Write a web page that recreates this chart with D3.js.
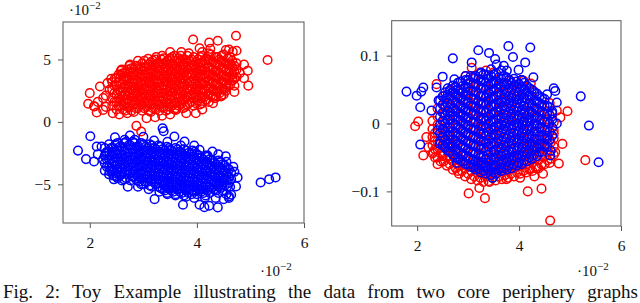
<!DOCTYPE html>
<html>
<head>
<meta charset="utf-8">
<script src="https://cdn.jsdelivr.net/npm/d3@7"></script>
<style>
  body { margin: 0; background: #fff; }
</style>
</head>
<body>
<svg id="chart" width="640" height="303"></svg>
<script>
// x values in units of 1e-2 (axis shows "·10^-2"), left y also in 1e-2, right y raw

// ---- left panel, red group: dense core as columns [x, [y...]] ----
var leftRedCore = [
  [2.42,[1.3,1.9,2.6,3.2]],
  [2.5,[1.0,1.6,2.2,2.9,3.5]],
  [2.58,[1.3,1.8,2.4,3.0,3.7,4.1]],
  [2.66,[0.9,1.5,2.1,2.7,3.3,3.9]],
  [2.74,[1.2,1.7,2.3,2.8,3.4,4.0,4.5]],
  [2.82,[0.8,1.4,2.0,2.5,3.1,3.7,4.2]],
  [2.9,[1.1,1.7,2.2,2.8,3.3,3.9,4.4]],
  [2.98,[0.9,1.4,1.9,2.5,3.0,3.6,4.1,4.7]],
  [3.06,[1.2,1.7,2.2,2.8,3.3,3.9,4.4]],
  [3.14,[0.8,1.4,2.0,2.5,3.1,3.6,4.2,4.8]],
  [3.22,[1.1,1.7,2.3,2.8,3.4,3.9,4.5,5.0]],
  [3.3,[0.9,1.4,2.0,2.6,3.1,3.7,4.2,4.7]],
  [3.38,[1.2,1.8,2.3,2.9,3.5,4.0,4.6,5.1]],
  [3.46,[1.0,1.5,2.1,2.7,3.2,3.8,4.3,4.9]],
  [3.54,[1.3,1.9,2.4,3.0,3.5,4.1,4.6,5.2]],
  [3.62,[1.1,1.6,2.2,2.8,3.3,3.9,4.4,4.9]],
  [3.7,[1.4,2.0,2.5,3.1,3.7,4.2,4.8,5.3]],
  [3.78,[1.2,1.8,2.3,2.9,3.4,4.0,4.5,5.0]],
  [3.86,[1.5,2.1,2.6,3.2,3.8,4.3,4.9]],
  [3.94,[1.3,1.9,2.4,3.0,3.5,4.1,4.6,5.2]],
  [4.02,[1.7,2.2,2.8,3.3,3.9,4.4,5.0]],
  [4.1,[1.5,2.0,2.6,3.1,3.7,4.2,4.8,5.3]],
  [4.18,[1.8,2.4,2.9,3.5,4.0,4.6,5.1]],
  [4.26,[2.1,2.7,3.2,3.8,4.3,4.9,5.4]],
  [4.34,[1.9,2.5,3.0,3.6,4.1,4.7,5.2]],
  [4.42,[2.3,2.8,3.4,3.9,4.5,5.0]],
  [4.5,[2.6,3.2,3.7,4.3,4.8,5.4]],
  [4.58,[2.9,3.5,4.0,4.6,5.1]],
  [4.66,[3.3,3.8,4.4,4.9]],
  [4.74,[3.6,4.2,4.7]]
];
var leftRedFill = [
  [2.46,[1.6,2.3,2.9]],
  [2.54,[1.3,1.9,2.6,3.2,3.8]],
  [2.62,[1.0,1.6,2.1,2.7,3.4,3.9]],
  [2.7,[1.2,1.8,2.4,3.0,3.6,4.2]],
  [2.78,[0.9,1.5,2.0,2.6,3.1,3.7,4.3]],
  [2.86,[1.1,1.7,2.3,2.8,3.4,4.0,4.5]],
  [2.94,[1.4,2.0,2.5,3.1,3.6,4.2]],
  [3.02,[1.1,1.6,2.2,2.7,3.3,3.8,4.4,4.9]],
  [3.1,[0.9,1.5,2.0,2.5,3.1,3.6,4.1,4.6]],
  [3.18,[1.1,1.7,2.2,2.8,3.3,3.9,4.5,4.9]],
  [3.26,[1.4,2.0,2.5,3.1,3.7,4.2,4.7]],
  [3.34,[1.2,1.7,2.3,2.8,3.4,3.9,4.5,5.0]],
  [3.42,[0.9,1.5,2.0,2.6,3.2,3.7,4.3,4.8]],
  [3.5,[1.2,1.8,2.4,2.9,3.5,4.0,4.6,5.1]],
  [3.58,[1.0,1.5,2.1,2.7,3.2,3.8,4.3,4.9,5.3]],
  [3.66,[1.3,1.9,2.5,3.0,3.6,4.1,4.7,5.1]],
  [3.74,[1.1,1.7,2.2,2.8,3.4,3.9,4.5,5.0]],
  [3.82,[1.4,2.0,2.6,3.1,3.7,4.2,4.8,5.3]],
  [3.9,[1.6,2.2,2.8,3.3,3.9,4.5,5.0]],
  [3.98,[1.5,2.0,2.6,3.2,3.7,4.3,4.8]],
  [4.06,[1.4,1.9,2.5,3.0,3.6,4.1,4.7,5.2]],
  [4.14,[2.0,2.6,3.2,3.8,4.3,4.9]],
  [4.22,[1.6,2.2,2.7,3.3,3.8,4.4,5.0,5.5]],
  [4.3,[2.0,2.5,3.1,3.6,4.2,4.8]],
  [4.38,[2.4,3.0,3.5,4.1,4.6,5.2]],
  [4.46,[2.1,2.6,3.2,3.7,4.3,4.9,5.3]],
  [4.54,[2.5,3.0,3.6,4.1,4.7]],
  [4.62,[3.0,3.6,4.2,4.7,5.2]],
  [4.7,[3.5,4.0,4.5]]
];
var leftRedEdge = [
  [5.32,4.96],[4.73,6.9],[4.39,6.5],[4.23,6.35],[3.93,6.6],[4.96,2.9],[4.88,3.5],[4.88,4.6],
  [4.74,5.7],[4.6,5.8],[1.97,1.45],[2.08,1.25],[2.13,0.75],[2.43,0.69],[2.87,-0.32],[2.96,-0.77],
  [3.06,0.3],[3.22,0.37],[3.8,0.69],[3.98,0.69],[3.61,0.96],[2.68,3.5],[2.47,3.5],[2.4,3.45],
  [2.75,4.6],[3.09,5.05],[3.24,5.2],[3.71,5.6],[4.05,5.9],[2.19,2.83],[2.0,2.3],[2.25,1.9],
  [2.37,2.56],[4.36,2.03],[4.45,2.03],[4.67,3.36],[4.54,2.7],[4.17,1.76],[2.3,1.2],[2.15,1.6],
  [2.3,2.1],[2.55,0.6],[2.7,0.7],[3.35,0.5],[3.5,0.6],[4.1,1.0],[4.3,1.5],[4.5,2.2],[4.7,2.9],
  [4.8,3.9],[4.54,5.76],[4.67,5.62],[4.1,5.6],[3.85,5.5],[3.5,5.6],[3.35,5.3],[2.9,4.9],
  [2.6,4.2],[4.25,5.85],[2.33,3.1],[4.95,4.1],[4.7,2.4],[2.25,0.96],[2.09,1.23]
];

// ---- left panel, blue group ----
var leftBlueCore = [
  [2.28,[-2.1,-2.7,-3.3,-3.9]],
  [2.36,[-1.8,-2.4,-3.0,-3.6,-4.2]],
  [2.44,[-2.1,-2.6,-3.2,-3.8,-4.3]],
  [2.52,[-1.7,-2.3,-2.9,-3.4,-4.0,-4.5]],
  [2.6,[-2.0,-2.6,-3.1,-3.7,-4.2]],
  [2.68,[-1.6,-2.2,-2.8,-3.3,-3.9,-4.5]],
  [2.76,[-1.9,-2.5,-3.0,-3.6,-4.1,-4.7]],
  [2.84,[-1.7,-2.2,-2.8,-3.3,-3.9,-4.4]],
  [2.92,[-2.0,-2.5,-3.1,-3.6,-4.2,-4.8]],
  [3.0,[-1.8,-2.3,-2.9,-3.4,-4.0,-4.5,-5.0]],
  [3.08,[-2.1,-2.6,-3.2,-3.7,-4.3,-4.8]],
  [3.16,[-1.9,-2.4,-3.0,-3.5,-4.1,-4.6,-5.2]],
  [3.24,[-2.2,-2.7,-3.3,-3.8,-4.4,-4.9]],
  [3.32,[-2.0,-2.5,-3.1,-3.6,-4.2,-4.7,-5.3]],
  [3.4,[-2.3,-2.8,-3.4,-3.9,-4.5,-5.0,-5.5]],
  [3.48,[-2.1,-2.6,-3.2,-3.7,-4.3,-4.8,-5.3]],
  [3.56,[-2.4,-2.9,-3.5,-4.0,-4.6,-5.1,-5.6]],
  [3.64,[-2.2,-2.7,-3.3,-3.8,-4.4,-4.9,-5.4]],
  [3.72,[-2.5,-3.0,-3.6,-4.1,-4.7,-5.2,-5.7]],
  [3.8,[-2.3,-2.8,-3.4,-3.9,-4.5,-5.0,-5.5]],
  [3.88,[-2.6,-3.1,-3.7,-4.2,-4.8,-5.3]],
  [3.96,[-2.4,-2.9,-3.5,-4.0,-4.6,-5.1,-5.6]],
  [4.04,[-2.7,-3.2,-3.8,-4.3,-4.9,-5.4]],
  [4.12,[-3.0,-3.5,-4.1,-4.6,-5.2,-5.7]],
  [4.2,[-2.8,-3.3,-3.9,-4.4,-5.0,-5.5]],
  [4.28,[-3.1,-3.6,-4.2,-4.7,-5.3]],
  [4.36,[-3.4,-3.9,-4.5,-5.0,-5.5]],
  [4.44,[-3.2,-3.7,-4.3,-4.8,-5.3]],
  [4.52,[-3.5,-4.0,-4.6,-5.1]],
  [4.6,[-3.8,-4.4,-4.9]]
];
var leftBlueFill = [
  [2.32,[-2.4,-3.0,-3.6]],
  [2.4,[-2.1,-2.7,-3.3,-3.9]],
  [2.48,[-1.8,-2.4,-2.9,-3.5,-4.1]],
  [2.56,[-2.0,-2.6,-3.2,-3.7,-4.3]],
  [2.64,[-1.7,-2.3,-2.9,-3.4,-4.0,-4.6]],
  [2.72,[-1.9,-2.5,-3.1,-3.6,-4.2]],
  [2.8,[-1.6,-2.2,-2.8,-3.3,-3.9,-4.4]],
  [2.88,[-2.0,-2.5,-3.1,-3.6,-4.2,-4.7]],
  [2.96,[-1.7,-2.3,-2.8,-3.4,-3.9,-4.5,-5.0]],
  [3.04,[-2.0,-2.6,-3.1,-3.7,-4.2,-4.8]],
  [3.12,[-1.8,-2.3,-2.9,-3.4,-4.0,-4.5,-5.1]],
  [3.2,[-2.1,-2.6,-3.2,-3.7,-4.3,-4.8]],
  [3.28,[-1.9,-2.4,-3.0,-3.5,-4.1,-4.6,-5.2]],
  [3.36,[-2.2,-2.7,-3.3,-3.8,-4.4,-4.9,-5.4]],
  [3.44,[-2.0,-2.5,-3.1,-3.6,-4.2,-4.7,-5.3,-5.7]],
  [3.52,[-2.3,-2.8,-3.4,-3.9,-4.5,-5.0,-5.5]],
  [3.6,[-2.1,-2.6,-3.2,-3.7,-4.3,-4.8,-5.3,-5.8]],
  [3.68,[-2.4,-2.9,-3.5,-4.0,-4.6,-5.1,-5.6]],
  [3.76,[-2.2,-2.7,-3.3,-3.8,-4.4,-4.9,-5.4,-5.9]],
  [3.84,[-2.5,-3.0,-3.6,-4.1,-4.7,-5.2,-5.7]],
  [3.92,[-2.3,-2.8,-3.4,-3.9,-4.5,-5.0,-5.5]],
  [4.0,[-2.6,-3.1,-3.7,-4.2,-4.8,-5.3,-5.8]],
  [4.08,[-2.9,-3.4,-4.0,-4.5,-5.1,-5.6]],
  [4.16,[-2.7,-3.2,-3.8,-4.3,-4.9,-5.4,-5.9]],
  [4.24,[-3.0,-3.5,-4.1,-4.6,-5.2,-5.7]],
  [4.32,[-3.3,-3.8,-4.4,-4.9,-5.4]],
  [4.4,[-3.1,-3.6,-4.2,-4.7,-5.2,-5.7]],
  [4.48,[-3.4,-3.9,-4.5,-5.0,-5.5]],
  [4.56,[-3.7,-4.2,-4.7,-5.2]],
  [4.64,[-4.1,-4.6]]
];
var leftBlueEdge = [
  [1.78,-2.3],[1.93,-2.98],[2.01,-1.15],[2.08,-3.17],[2.13,-1.97],[2.22,-1.97],[2.71,-5.2],[3.21,-6.19],
  [3.36,-0.51],[3.38,-0.75],[3.74,-6.64],[4.05,-6.64],[4.14,-6.83],[4.23,-6.72],[4.39,-6.85],
  [5.19,-4.85],[5.35,-4.59],[5.47,-4.45],[4.76,-4.45],[4.73,-5.17],[4.6,-5.97],[4.54,-2.75],
  [4.29,-2.37],[4.05,-2.24],[3.58,-1.17],[3.77,-1.57],[2.84,-1.44],[2.65,-1.44],[2.47,-1.23],
  [2.37,-3.97],[2.5,-4.37],[2.15,-2.6],[2.25,-3.0],[2.3,-2.5],[2.45,-4.6],[2.6,-4.7],[2.9,-5.2],
  [3.1,-5.4],[3.3,-5.6],[3.45,-5.8],[3.6,-5.9],[3.8,-6.0],[3.95,-6.1],[4.15,-6.05],[4.35,-6.1],
  [4.55,-5.8],[4.64,-5.84],[4.7,-4.0],[4.68,-3.6],[4.55,-3.2],[4.4,-2.6],[4.2,-2.7],[3.95,-1.9],
  [3.7,-1.9],[3.45,-1.6],[3.2,-1.5],[3.0,-1.2],[2.75,-1.1],[3.9,-5.8],[4.6,-6.1],[4.62,-5.2],[4.5,-6.2]
];

// ---- right panel, red group ----
var rightRedCore = [
  [2.3,[-0.044,-0.032,-0.02,-0.008,0.004]],
  [2.4,[-0.05,-0.038,-0.026,-0.014,-0.002,0.01,0.022]],
  [2.52,[-0.056,-0.044,-0.032,-0.02,-0.008,0.004,0.016,0.028,0.04]],
  [2.64,[-0.06,-0.048,-0.036,-0.024,-0.012,0,0.012,0.024,0.036,0.048]],
  [2.76,[-0.066,-0.054,-0.042,-0.03,-0.018,-0.006,0.006,0.018,0.03,0.042,0.054]],
  [2.88,[-0.07,-0.058,-0.046,-0.034,-0.022,-0.01,0.002,0.014,0.026,0.038,0.05]],
  [3.0,[-0.074,-0.062,-0.05,-0.038,-0.026,-0.014,-0.002,0.01,0.022,0.034,0.046,0.058]],
  [3.12,[-0.078,-0.066,-0.054,-0.042,-0.03,-0.018,-0.006,0.006,0.018,0.03,0.042,0.054,0.066]],
  [3.24,[-0.08,-0.068,-0.056,-0.044,-0.032,-0.02,-0.008,0.004,0.016,0.028,0.04,0.052,0.064]],
  [3.36,[-0.078,-0.066,-0.054,-0.042,-0.03,-0.018,-0.006,0.006,0.018,0.03,0.042,0.054]],
  [3.48,[-0.08,-0.07,-0.058,-0.046,-0.034,-0.022,-0.01,0.002,0.014,0.026,0.038,0.05,0.06]],
  [3.6,[-0.078,-0.066,-0.054,-0.042,-0.03,-0.018,-0.006,0.006,0.018,0.03,0.042,0.054]],
  [3.72,[-0.076,-0.064,-0.052,-0.04,-0.028,-0.016,-0.004,0.008,0.02,0.032,0.044,0.056]],
  [3.84,[-0.074,-0.062,-0.05,-0.038,-0.026,-0.014,-0.002,0.01,0.022,0.034,0.046]],
  [3.96,[-0.072,-0.06,-0.048,-0.036,-0.024,-0.012,0,0.012,0.024,0.036,0.048]],
  [4.08,[-0.07,-0.058,-0.046,-0.034,-0.022,-0.01,0.002,0.014,0.026,0.038,0.05]],
  [4.2,[-0.068,-0.056,-0.044,-0.032,-0.02,-0.008,0.004,0.016,0.028,0.04]],
  [4.32,[-0.064,-0.052,-0.04,-0.028,-0.016,-0.004,0.008,0.02,0.032]],
  [4.44,[-0.06,-0.048,-0.036,-0.024,-0.012,0,0.012,0.024]],
  [4.56,[-0.054,-0.042,-0.03,-0.018,-0.006,0.006,0.018]],
  [4.68,[-0.046,-0.034,-0.022,-0.01,0.002]]
];
var rightRedFill = [
  [2.35,[-0.05,-0.038,-0.026,-0.014]],
  [2.46,[-0.056,-0.044,-0.03,-0.018,-0.006]],
  [2.58,[-0.062,-0.05,-0.038,-0.026]],
  [2.7,[-0.068,-0.056,-0.044,-0.032]],
  [2.82,[-0.074,-0.062,-0.05]],
  [2.94,[-0.078,-0.066,-0.054]],
  [3.06,[-0.082,-0.07,-0.058]],
  [3.18,[-0.084,-0.072,-0.06]],
  [3.3,[-0.086,-0.074,-0.062]],
  [3.42,[-0.086,-0.074,-0.062]],
  [3.54,[-0.084,-0.072,-0.06]],
  [3.66,[-0.082,-0.07,-0.058]],
  [3.78,[-0.08,-0.068,-0.056]],
  [3.9,[-0.078,-0.066,-0.054]],
  [4.02,[-0.074,-0.062,-0.05]],
  [4.14,[-0.072,-0.06,-0.048]],
  [4.26,[-0.07,-0.058,-0.046,-0.034]],
  [4.38,[-0.066,-0.054,-0.042,-0.03]],
  [4.5,[-0.06,-0.048,-0.036,-0.024]],
  [4.62,[-0.052,-0.04,-0.028]]
];
var rightRedEdge = [
  [4.61,-0.143],[3.01,-0.103],[3.22,-0.095],[3.33,-0.11],[4.17,-0.1],[4.44,-0.096],[4.02,-0.08],
  [4.47,-0.074],[5.3,-0.054],[4.78,-0.059],[4.95,0.018],[4.81,0.009],[1.96,-0.004],[2.12,-0.047],
  [2.32,-0.042],[2.22,-0.035],[3.07,0.082],[3.24,0.075],[3.5,0.075],[4.21,-0.066],[4.35,-0.064],
  [3.89,-0.064],[3.66,-0.064],[3.56,-0.066],[3.17,-0.064],[3.07,-0.064],[2.91,-0.061],[2.65,-0.052],
  [2.5,-0.048],[4.71,-0.042],[4.68,-0.015],[4.74,0.019],[4.28,0.048],[4.23,0.059],[2.38,0.058],
  [4.09,0.063],[3.83,0.063],[2.02,0.003],[2.18,-0.02],[2.4,-0.06],[2.8,-0.07],[3.4,-0.085],
  [3.75,-0.082],[4.3,-0.078],[4.6,-0.058],[4.85,-0.03],[4.6,0.03],[2.95,0.07],[3.35,0.078]
];

// ---- right panel, blue group ----
var rightBlueCore = [
  [2.5,[-0.032,-0.02,-0.008,0.004,0.016,0.028,0.04]],
  [2.6,[-0.04,-0.03,-0.018,-0.006,0.006,0.018,0.03,0.042,0.052]],
  [2.7,[-0.046,-0.034,-0.024,-0.012,0,0.012,0.022,0.034,0.046,0.056]],
  [2.8,[-0.052,-0.04,-0.03,-0.018,-0.006,0.006,0.016,0.028,0.04,0.05,0.06]],
  [2.9,[-0.056,-0.046,-0.034,-0.024,-0.012,0,0.012,0.022,0.034,0.046,0.056]],
  [3.0,[-0.06,-0.05,-0.038,-0.028,-0.016,-0.004,0.008,0.018,0.03,0.042,0.052,0.064]],
  [3.1,[-0.064,-0.054,-0.042,-0.032,-0.02,-0.008,0.002,0.014,0.026,0.036,0.048,0.058,0.068]],
  [3.2,[-0.066,-0.056,-0.046,-0.034,-0.022,-0.012,0,0.01,0.022,0.032,0.044,0.056,0.066]],
  [3.3,[-0.07,-0.058,-0.048,-0.036,-0.026,-0.014,-0.004,0.008,0.018,0.03,0.04,0.052,0.062,0.072]],
  [3.4,[-0.068,-0.058,-0.046,-0.034,-0.024,-0.012,0,0.01,0.022,0.034,0.044,0.056,0.066]],
  [3.5,[-0.072,-0.062,-0.05,-0.04,-0.028,-0.016,-0.006,0.006,0.016,0.028,0.04,0.05,0.062,0.072]],
  [3.6,[-0.068,-0.056,-0.046,-0.034,-0.022,-0.01,0,0.012,0.024,0.034,0.046,0.058,0.068]],
  [3.7,[-0.066,-0.054,-0.042,-0.032,-0.02,-0.008,0.004,0.014,0.026,0.038,0.05,0.06,0.07]],
  [3.8,[-0.062,-0.05,-0.04,-0.028,-0.016,-0.004,0.006,0.018,0.03,0.04,0.052,0.064]],
  [3.9,[-0.06,-0.048,-0.036,-0.024,-0.014,-0.002,0.01,0.02,0.032,0.044,0.056,0.066]],
  [4.0,[-0.058,-0.046,-0.034,-0.022,-0.01,0,0.012,0.024,0.036,0.046,0.058]],
  [4.1,[-0.054,-0.042,-0.03,-0.02,-0.008,0.004,0.016,0.026,0.038,0.05,0.06]],
  [4.2,[-0.05,-0.038,-0.028,-0.016,-0.004,0.008,0.018,0.03,0.042,0.052]],
  [4.3,[-0.046,-0.034,-0.022,-0.012,0,0.012,0.024,0.034,0.046]],
  [4.4,[-0.042,-0.03,-0.018,-0.006,0.006,0.018,0.03,0.04]],
  [4.5,[-0.034,-0.022,-0.01,0.002,0.014,0.026,0.036]],
  [4.6,[-0.024,-0.012,0,0.012,0.024]]
];
var rightBlueFill = [
  [2.45,[-0.026,-0.014,-0.002,0.01,0.022,0.034]],
  [2.55,[-0.036,-0.024,-0.012,0,0.012,0.024,0.036,0.046]],
  [2.65,[-0.042,-0.03,-0.018,-0.006,0.006,0.016,0.028,0.04,0.05]],
  [2.75,[-0.05,-0.038,-0.026,-0.014,-0.002,0.01,0.02,0.032,0.044,0.054]],
  [2.85,[-0.054,-0.044,-0.032,-0.02,-0.008,0.004,0.014,0.026,0.038,0.05,0.062]],
  [2.95,[-0.06,-0.048,-0.036,-0.026,-0.014,-0.002,0.008,0.02,0.032,0.042,0.054,0.064]],
  [3.05,[-0.064,-0.052,-0.042,-0.03,-0.018,-0.008,0.004,0.016,0.026,0.038,0.048,0.06,0.07]],
  [3.15,[-0.068,-0.056,-0.044,-0.034,-0.022,-0.01,0.002,0.012,0.024,0.036,0.046,0.058,0.07]],
  [3.25,[-0.072,-0.06,-0.05,-0.038,-0.026,-0.016,-0.004,0.006,0.018,0.03,0.04,0.052,0.064,0.074]],
  [3.35,[-0.074,-0.062,-0.052,-0.04,-0.028,-0.018,-0.006,0.004,0.016,0.028,0.038,0.05,0.06,0.072]],
  [3.45,[-0.076,-0.064,-0.054,-0.042,-0.03,-0.02,-0.008,0.002,0.014,0.026,0.036,0.048,0.058,0.07]],
  [3.55,[-0.074,-0.062,-0.05,-0.04,-0.028,-0.016,-0.004,0.006,0.018,0.028,0.04,0.052,0.062,0.074]],
  [3.65,[-0.07,-0.06,-0.048,-0.036,-0.026,-0.014,-0.002,0.008,0.02,0.032,0.042,0.054,0.066]],
  [3.75,[-0.068,-0.056,-0.046,-0.034,-0.022,-0.01,0,0.012,0.024,0.034,0.046,0.058,0.068]],
  [3.85,[-0.066,-0.054,-0.042,-0.03,-0.02,-0.008,0.004,0.014,0.026,0.038,0.05,0.06]],
  [3.95,[-0.062,-0.05,-0.04,-0.028,-0.016,-0.004,0.006,0.018,0.03,0.04,0.052,0.062]],
  [4.05,[-0.06,-0.048,-0.036,-0.026,-0.014,-0.002,0.008,0.02,0.032,0.042,0.054,0.064]],
  [4.15,[-0.056,-0.044,-0.032,-0.022,-0.01,0.002,0.012,0.024,0.036,0.046,0.056]],
  [4.25,[-0.052,-0.04,-0.03,-0.018,-0.006,0.006,0.016,0.028,0.04,0.05]],
  [4.35,[-0.048,-0.036,-0.024,-0.012,-0.002,0.01,0.022,0.032,0.044]],
  [4.45,[-0.042,-0.03,-0.018,-0.006,0.006,0.018,0.028,0.038]],
  [4.55,[-0.034,-0.022,-0.01,0.002,0.014,0.026]],
  [4.65,[-0.018,-0.006,0.006,0.018]]
];
var rightBlueEdge = [
  [1.79,0.047],[1.99,0.041],[2.12,0.053],[2.08,0.047],[2.06,0.024],[2.7,0.096],[3.2,0.108],[3.41,0.104],
  [3.79,0.114],[4.22,0.112],[3.88,0.098],[4.12,0.09],[3.53,0.095],[3.56,0.087],[3.7,0.085],[3.76,0.078],
  [3.99,0.079],[3.07,0.09],[2.5,0.069],[2.73,0.065],[4.28,0.068],[4.05,0.064],[4.68,0.052],[4.71,0.048],
  [5.21,0.04],[5.37,-0.003],[4.74,0.031],[4.55,0.043],[2.38,0.053],[2.28,0.019],[2.06,-0.031],
  [5.56,-0.057],[3.48,-0.08],[2.78,-0.058],[4.61,-0.047],[3.99,-0.057],[3.11,-0.061],[3.33,-0.065],
  [3.63,-0.066],[2.55,-0.034],[4.74,0],[4.35,-0.035],[4.55,-0.018],[2.42,0.034],[2.4,-0.01],
  [2.44,-0.03],[3.65,0.078],[3.45,0.08],[3.25,0.075],[2.95,0.07],[4.65,0.015],[4.62,-0.04]
];

var xTicks = [2, 4, 6];
var leftYTicks = [-5, 0, 5];
var rightYTicks = [-0.1, 0, 0.1];

var caption = "Fig. 2: Toy Example illustrating the data from two core periphery graphs";

var serif = "'Liberation Serif', 'Times New Roman', serif";

function flatten() {
  var pts = [];
  Array.prototype.forEach.call(arguments, function(a) {
    a.forEach(function(c) {
      if (Array.isArray(c[1])) c[1].forEach(function(y) { pts.push([c[0], y]); });
      else pts.push(c);
    });
  });
  return pts;
}

var svg = d3.select("#chart");
var R = 4.3;

function panel(opt) {
  var x = d3.scaleLinear().domain([1.5, 6]).range([opt.left, opt.right]);
  var y = d3.scaleLinear().domain(opt.yDomain).range([opt.bottom, opt.top]);
  var g = svg.append("g");

  opt.groups.forEach(function(grp) {
    g.append("g").selectAll("circle")
      .data(grp.pts)
      .enter()
      .append("circle")
        .attr("cx", function(d){ return x(d[0]); })
        .attr("cy", function(d){ return y(d[1]); })
        .attr("r", R)
        .attr("fill", "none")
        .attr("stroke", grp.color)
        .attr("stroke-width", 1.5);
  });

  // frame
  g.append("rect")
    .attr("x", opt.left).attr("y", opt.top)
    .attr("width", opt.right - opt.left).attr("height", opt.bottom - opt.top)
    .attr("fill", "none").attr("stroke", "#555").attr("stroke-width", 1);

  var xa = g.append("g").attr("transform", "translate(0," + opt.bottom + ")")
    .call(d3.axisBottom(x).tickValues(xTicks).tickSize(5).tickPadding(9).tickFormat(d3.format("~g")));
  var ya = g.append("g").attr("transform", "translate(" + opt.left + ",0)")
    .call(d3.axisLeft(y).tickValues(opt.yTicks).tickSize(5).tickPadding(7).tickFormat(d3.format("~g")));
  [xa, ya].forEach(function(a) {
    a.attr("font-family", null).attr("font-size", null);
    a.select(".domain").remove();
    a.selectAll("line").attr("stroke", "#555");
    a.selectAll("text").style("font-family", serif).style("font-size", "15.5px").attr("fill", "#111");
  });

  // exponent labels
  function expo(px, py) {
    var t = g.append("text").attr("x", px).attr("y", py)
      .style("font-family", serif).style("font-size", "15px").attr("fill", "#111");
    t.append("tspan").text("·10");
    t.append("tspan").attr("dy", -6).style("font-size", "11px").text("−2");
  }
  expo(opt.right - 44, 276);
  if (opt.topExpo) expo(opt.left + 6, 15);
}

panel({
  left: 63, right: 304, top: 22, bottom: 223,
  yDomain: [-8.1, 8], yTicks: leftYTicks, topExpo: true,
  groups: [
    { color: "#ff0000", pts: flatten(leftRedCore, leftRedFill, leftRedEdge) },
    { color: "#0000ff", pts: flatten(leftBlueCore, leftBlueFill, leftBlueEdge) }
  ]
});

panel({
  left: 391.7, right: 621, top: 20.7, bottom: 226,
  yDomain: [-0.151, 0.1515], yTicks: rightYTicks, topExpo: false,
  groups: [
    { color: "#ff0000", pts: flatten(rightRedCore, rightRedFill, rightRedEdge) },
    { color: "#0000ff", pts: flatten(rightBlueCore, rightBlueFill, rightBlueEdge) }
  ]
});

// caption, stretched like the justified line of the paper
var cap = svg.append("text")
  .attr("x", 3).attr("y", 298)
  .style("font-family", serif).style("font-size", "19px").attr("fill", "#111")
  .text(caption);
var gaps = caption.split(" ").length - 1;
var extra = (638 - 3 - cap.node().getComputedTextLength()) / gaps;
cap.attr("word-spacing", extra);
</script>
</body>
</html>
